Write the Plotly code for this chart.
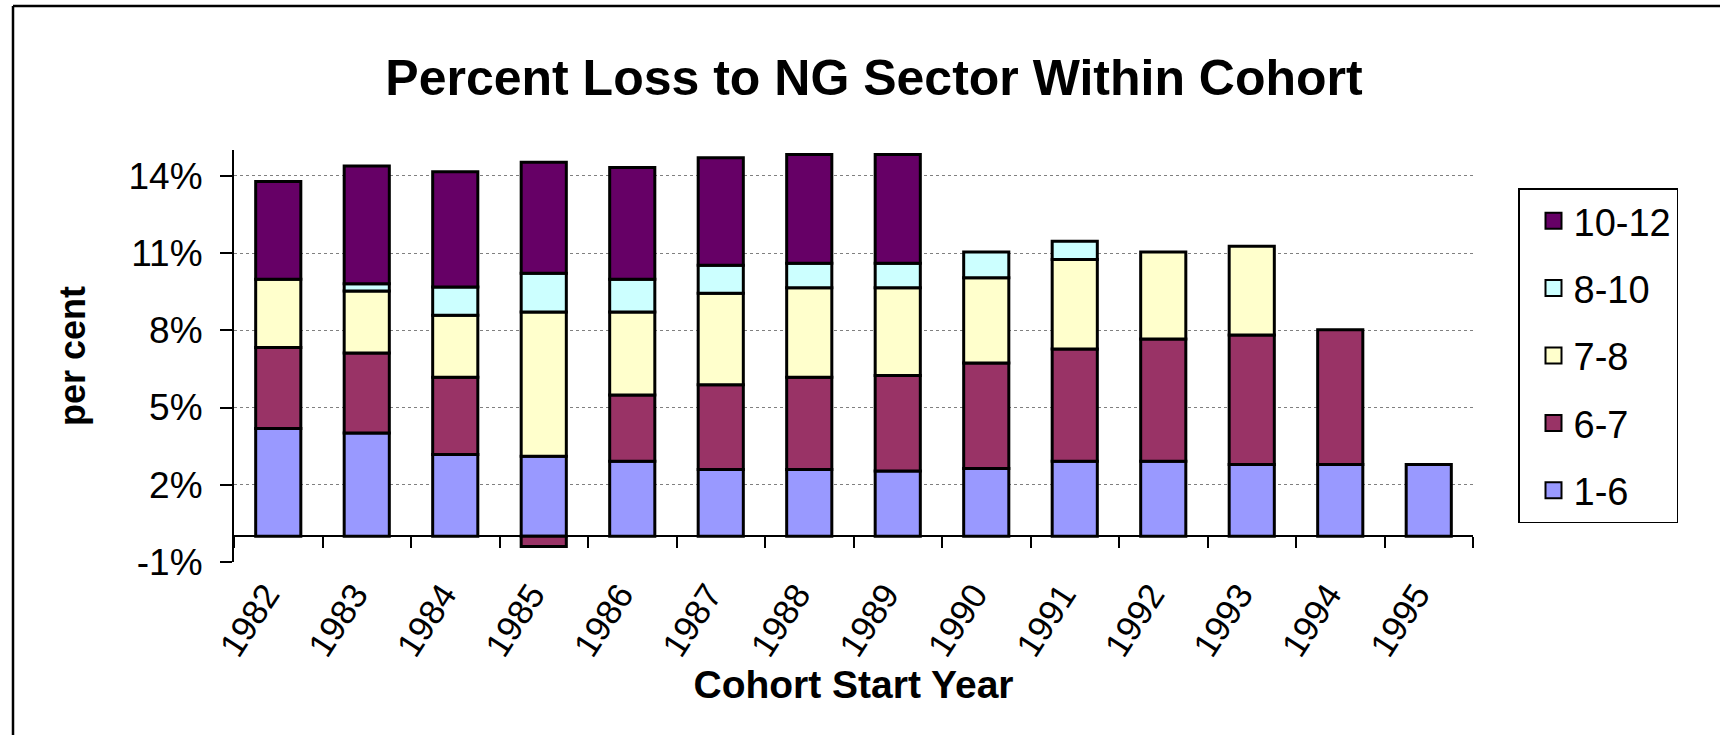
import plotly.graph_objects as go

years = ["1982", "1983", "1984", "1985", "1986", "1987", "1988",
         "1989", "1990", "1991", "1992", "1993", "1994", "1995"]

# percent values per cohort segment
s_1_6 = [4.18, 4.01, 3.17, 3.11, 2.91, 2.59, 2.59, 2.53, 2.63, 2.91, 2.91, 2.79, 2.79, 2.79]
s_6_7 = [3.15, 3.11, 3.00, -0.40, 2.58, 3.29, 3.58, 3.71, 4.10, 4.36, 4.75, 5.03, 5.23, None]
s_7_8 = [2.65, 2.40, 2.41, 5.60, 3.22, 3.56, 3.48, 3.41, 3.31, 3.48, 3.38, 3.44, None, None]
s_8_10 = [None, 0.29, 1.10, 1.50, 1.27, 1.08, 0.95, 0.95, 1.00, 0.71, None, None, None, None]
s_10_12 = [3.80, 4.57, 4.48, 4.31, 4.34, 4.18, 4.23, 4.23, None, None, None, None, None, None]

series_names = ["1-6", "6-7", "7-8", "8-10", "10-12"]
series_values = [s_1_6, s_6_7, s_7_8, s_8_10, s_10_12]
series_colors = ["#9999FF", "#993366", "#FFFFCC", "#CCFFFF", "#660066"]

y_ticks = [-1, 2, 5, 8, 11, 14]
y_tick_labels = ["-1%", "2%", "5%", "8%", "11%", "14%"]
y_min, y_max = -1, 15

FONT = "Arial, Liberation Sans, sans-serif"

fig = go.Figure()
for name, vals, col in zip(series_names, series_values, series_colors):
    fig.add_trace(go.Bar(
        x=years, y=vals, name=name, showlegend=False,
        marker=dict(color=col, line=dict(color="black", width=3)),
    ))

# legend proxies (top to bottom: 10-12 ... 1-6)
for name, col in reversed(list(zip(series_names, series_colors))):
    fig.add_trace(go.Scatter(
        x=[None], y=[None], mode="markers", name=name, legendgroup=name,
        marker=dict(symbol="square", size=24, color=col,
                    line=dict(color="black", width=2)),
    ))

zero_pos = (0 - y_min) / (y_max - y_min)

fig.update_layout(
    width=1720, height=735,
    paper_bgcolor="white", plot_bgcolor="white",
    barmode="relative", bargap=0.49,
    margin=dict(l=234, r=247, t=150, b=173, autoexpand=False),
    font=dict(family=FONT, color="black"),
    title=dict(text="<b>Percent Loss to NG Sector Within Cohort</b>",
               font=dict(size=50, family=FONT, color="black"),
               x=874 / 1720, xanchor="center", xref="container",
               y=1 - 77 / 735, yanchor="middle", yref="container"),
    xaxis=dict(
        type="category", anchor="free", position=zero_pos, automargin=False,
        showline=True, linecolor="black", linewidth=2,
        ticks="outside", tickson="boundaries", ticklen=11, tickwidth=1.5,
        tickcolor="black", tickangle=-57, ticklabelstandoff=23,
        ticklabelshift=-12,
        tickfont=dict(size=35, family=FONT, color="black"),
        showgrid=False, zeroline=False,
        title=dict(text="<b>Cohort Start Year</b>", standoff=2,
                   font=dict(size=39, family=FONT, color="black")),
    ),
    yaxis=dict(
        range=[y_min, y_max], tickmode="array", tickvals=y_ticks,
        ticktext=y_tick_labels, automargin=False,
        showline=True, linecolor="black", linewidth=2,
        ticks="outside", ticklen=12, tickwidth=1.5, tickcolor="black",
        ticklabelstandoff=10,
        tickfont=dict(size=37, family=FONT, color="black"),
        showgrid=True, gridcolor="#808080", gridwidth=1, griddash="dot",
        zeroline=False,
        title=dict(text="<b>per cent</b>", standoff=32,
                   font=dict(size=36, family=FONT, color="black")),
    ),
    legend=dict(
        xref="container", yref="container",
        x=1518 / 1720, y=1 - 188 / 735, xanchor="left", yanchor="top",
        bordercolor="black", borderwidth=1.5, bgcolor="white",
        font=dict(size=38, family=FONT, color="black"),
        traceorder="grouped", tracegroupgap=15,
        itemsizing="trace", indentation=14,
    ),
    shapes=[
        dict(type="line", xref="paper", yref="paper", x0=-221 / 1239, x1=1.25,
             y0=1 + 144 / 412, y1=1 + 144 / 412, line=dict(color="black", width=2.5)),
        dict(type="line", xref="paper", yref="paper", x0=-221 / 1239, x1=-221 / 1239,
             y0=1 + 144 / 412, y1=-0.5, line=dict(color="black", width=2.5)),
    ],
)

fig.write_html("out.html", config={"displayModeBar": False},
               post_script="document.body.style.margin='0';")
